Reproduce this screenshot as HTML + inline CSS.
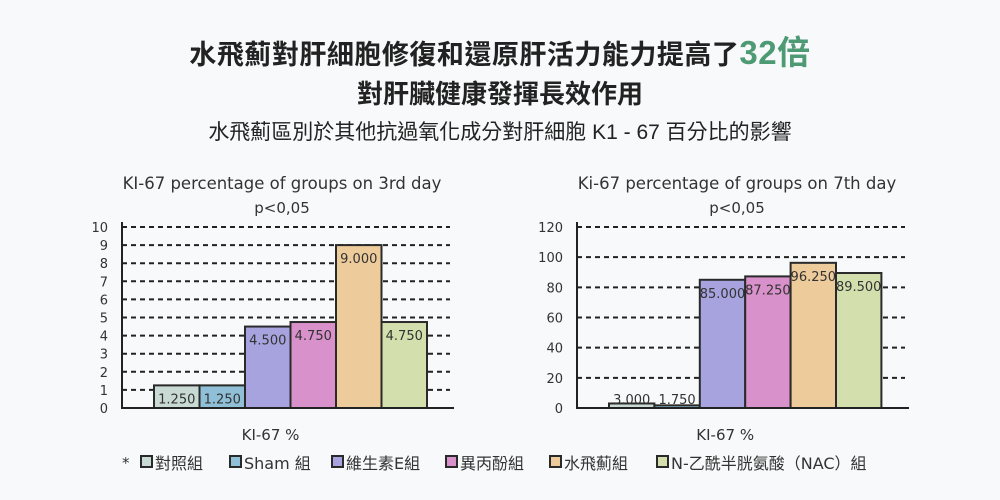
<!DOCTYPE html>
<html><head><meta charset="utf-8"><style>
body{margin:0;width:1000px;height:500px;background:#f8f9fa;font-family:"Liberation Sans","Noto Sans CJK TC",sans-serif;color:#222;overflow:hidden;position:relative}
.t{position:absolute;left:0;width:1000px;text-align:center;font-weight:bold}
svg text{font-family:"DejaVu Sans","Noto Sans CJK TC",sans-serif}
</style></head><body>
<div class="t" style="top:26px;font-size:27px;letter-spacing:0.5px">水飛薊對肝細胞修復和還原肝活力能力提高了<span style="color:#4e9a74;font-size:33px">32倍</span></div>
<div class="t" style="top:74px;font-size:26px">對肝臟健康發揮長效作用</div>
<div class="t" style="top:116px;font-size:21px;font-weight:normal">水飛薊區別於其他抗過氧化成分對肝細胞 K1 - 67 百分比的影響</div>
<svg id="c" width="1000" height="500" style="position:absolute;left:0;top:0"></svg>
<script>
const groups=["對照組","Sham 組","維生素E組","異丙酚組","水飛薊組","N-乙酰半胱氨酸（NAC）組"];
const day3Values=[1.25,1.25,4.5,4.75,9,4.75];
const day7Values=[3,1.75,85,87.25,96.25,89.5];
const day3Ticks=[0,1,2,3,4,5,6,7,8,9,10];
const day7Ticks=[0,20,40,60,80,100,120];
const colors=["#c9d9d3","#8fc0d8","#a7a3df","#d991cb","#eecb9b","#d3e0ae"];
const NS="http://www.w3.org/2000/svg";
const svg=document.getElementById('c');
function mk(t,a,txt){const e=document.createElementNS(NS,t);for(const k in a)e.setAttribute(k,a[k]);if(txt!==undefined)e.textContent=txt;svg.appendChild(e);return e;}
function chart(cfg){
 const y=v=>408-(v/cfg.max)*181;
 let e=mk('text',{x:cfg.cx,y:189,'text-anchor':'middle','font-size':16.5,fill:'#333'},cfg.title);
 
 e=mk('text',{x:cfg.cx,y:213,'text-anchor':'middle','font-size':15,fill:'#333'},'p<0,05');
 
 cfg.ticks.forEach(t=>{
  if(t>0){e=mk('line',{x1:cfg.ax,x2:cfg.gx,y1:y(t),y2:y(t),stroke:'#222','stroke-width':2,'stroke-dasharray':'5,4'});
  }
  e=mk('text',{x:cfg.ax-14,y:y(t)+5,'text-anchor':'end','font-size':13,fill:'#333'},t);
  
 });
 cfg.vals.forEach((v,i)=>{
  const x=cfg.b0+i*cfg.bw, top=y(v), h=Math.max(408-top,1);
  e=mk('rect',{x:x,y:408-h,width:cfg.bw,height:h,fill:colors[i],stroke:'#2a2a2a','stroke-width':2});
  
  const ly=h>20?top+18:404;
  e=mk('text',{x:x+cfg.bw/2,y:ly,'text-anchor':'middle','font-size':13,fill:'#333'},v.toFixed(3));
  
 });
 e=mk('line',{x1:cfg.ax,x2:cfg.ax,y1:222,y2:409,stroke:'#222','stroke-width':2});
 
 e=mk('line',{x1:cfg.ax-1,x2:cfg.gx+4,y1:408,y2:408,stroke:'#222','stroke-width':2});
 
 e=mk('text',{x:cfg.b0+3*cfg.bw-20,y:440,'text-anchor':'middle','font-size':15,fill:'#333'},'KI-67 %');
 
}
chart({id:'day3',title:'KI-67 percentage of groups on 3rd day',cx:282,ax:122,gx:450,b0:154,bw:45.5,max:10,ticks:day3Ticks,vals:day3Values});
chart({id:'day7',title:'Ki-67 percentage of groups on 7th day',cx:737,ax:577,gx:905,b0:609,bw:45.4,max:120,ticks:day7Ticks,vals:day7Values});
let e=mk('text',{x:122,y:468,'font-size':15,fill:'#333'},'*');

const lx=[141,230,332,446,550,657];
groups.forEach((g,i)=>{
 e=mk('rect',{x:lx[i],y:456,width:11,height:11,fill:colors[i],stroke:'#2a2a2a','stroke-width':2});
 
 e=mk('text',{x:lx[i]+14,y:469,'font-size':16,fill:'#333'},g);
 
});
</script>
</body></html>
